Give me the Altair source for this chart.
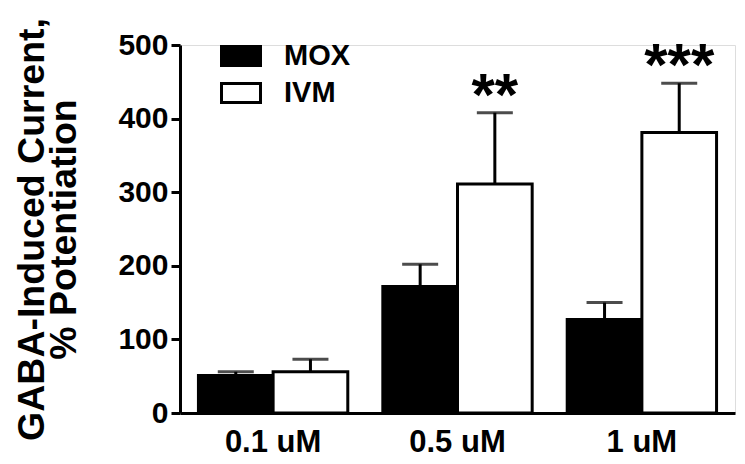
import altair as alt
import pandas as pd

groups = ["0.1 uM", "0.5 uM", "1 uM"]
series = ["MOX", "IVM"]
mox_mean = [51, 172, 127]
mox_err = [5, 30, 23]
ivm_mean = [56, 311, 381]
ivm_err = [17, 97, 67]
sig_labels = ["", "**", "***"]
y_ticks = [0, 100, 200, 300, 400, 500]

rows = []
for i, g in enumerate(groups):
    rows.append({"group": g, "series": "MOX", "mean": mox_mean[i], "top": mox_mean[i] + mox_err[i], "sig": ""})
    rows.append({"group": g, "series": "IVM", "mean": ivm_mean[i], "top": ivm_mean[i] + ivm_err[i], "sig": sig_labels[i]})
df = pd.DataFrame(rows)

FONT = "Liberation Sans"

x = alt.X("group:N", sort=groups, scale=alt.Scale(paddingInner=0.19, paddingOuter=0.1),
          axis=alt.Axis(title=None, labelAngle=0, ticks=False, domainColor="black", domainWidth=3,
                        labelFont=FONT, labelFontSize=31, labelFontWeight="bold", labelColor="black",
                        labelPadding=14, grid=False))
xoff = alt.XOffset("series:N", sort=series, scale=alt.Scale(domain=series, paddingInner=0, paddingOuter=0))
yscale = alt.Scale(domain=[0, 500], nice=False, zero=True)

base = alt.Chart(df)

rules = base.mark_rule(color="black", strokeWidth=3).encode(
    x=x, xOffset=xoff,
    y=alt.Y("mean:Q", scale=yscale),
    y2="top:Q",
)
caps = base.mark_tick(color="black", thickness=3, size=36, orient="horizontal").encode(
    x=x, xOffset=xoff, y=alt.Y("top:Q", scale=yscale)
)
bars = base.mark_bar(stroke="black", strokeWidth=3, strokeJoin="miter").encode(
    x=x, xOffset=xoff,
    y=alt.Y("mean:Q", scale=yscale,
            axis=alt.Axis(values=y_ticks, title=["GABA-Induced Current,", "% Potentiation"],
                          titleFont=FONT, titleFontSize=37.5, titleFontWeight="bold", titleColor="black",
                          titleLineHeight=32, titlePadding=34,
                          labelFont=FONT, labelFontSize=30, labelFontWeight="bold", labelColor="black",
                          labelPadding=3, tickSize=9, tickWidth=3, tickColor="black",
                          domainColor="black", domainWidth=3, grid=False)),
    fill=alt.Fill("series:N", sort=series,
                  scale=alt.Scale(domain=series, range=["black", "white"]),
                  legend=alt.Legend(title=None, orient="none", legendX=40, legendY=-10,
                                    symbolType="M-1,-0.487H1V0.487H-1Z", symbolSize=1521,
                                    symbolStrokeColor="black", symbolStrokeWidth=3,
                                    labelFont=FONT, labelFontSize=29, labelFontWeight="bold",
                                    labelColor="black", labelOffset=22, rowPadding=-5)),
)
stars = base.mark_text(font=FONT, fontSize=60, fontWeight="bold", color="black",
                       baseline="alphabetic", dy=2).encode(
    x=x, xOffset=xoff, y=alt.Y("top:Q", scale=yscale), text="sig:N"
)

chart = alt.layer(rules, caps, bars, stars).properties(
    width=555, height=368,
    autosize=alt.AutoSizeParams(type="none"),
    padding={"left": 172, "top": 37, "right": 2, "bottom": 50},
).configure_view(stroke=None).configure(background="white")

chart.save("out.html", embed_options={"renderer": "svg", "actions": False})
